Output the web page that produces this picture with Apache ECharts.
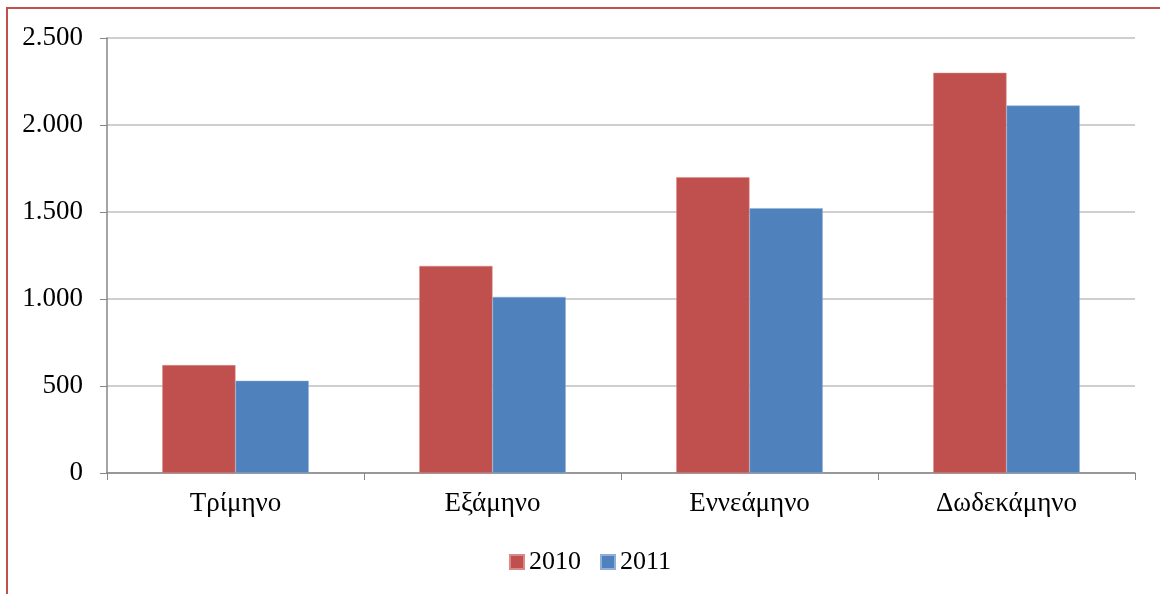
<!DOCTYPE html>
<html>
<head>
<meta charset="utf-8">
<script src="https://cdn.jsdelivr.net/npm/echarts@6/dist/echarts.min.js"></script>
<style>
  html, body { margin: 0; padding: 0; background: #fff; }
  #chart { width: 1160px; height: 594px; }
</style>
</head>
<body>
<div id="chart"></div>
<script>
  var categories = ["Τρίμηνο", "Εξάμηνο", "Εννεάμηνο", "Δωδεκάμηνο"];
  var values2010 = [620, 1190, 1700, 2300];
  var values2011 = [530, 1012, 1522, 2112];
  var yTicks = [0, 500, 1000, 1500, 2000, 2500];

  var myChart = echarts.init(document.getElementById("chart"));
  var font = "'Liberation Serif', 'DejaVu Serif', serif";

  var option = {
    animation: false,
    textStyle: { fontFamily: font },
    graphic: [
      {
        type: "rect",
        shape: { x: 7, y: 8, width: 1200, height: 700 },
        style: { fill: "none", stroke: "#c0504d", lineWidth: 2 },
        silent: true
      }
    ],
    grid: { left: 107, right: 25, top: 38, bottom: 121 },
    legend: {
      bottom: 14,
      left: 504,
      itemWidth: 14,
      itemHeight: 14,
      itemGap: 19,
      icon: "rect",
      textStyle: { fontFamily: font, fontSize: 26, color: "#000" },
      data: ["2010", "2011"]
    },
    xAxis: {
      type: "category",
      data: categories,
      axisLine: { lineStyle: { color: "#868686", width: 1.5 } },
      axisTick: { show: true, length: 7, lineStyle: { color: "#868686" } },
      axisLabel: { fontFamily: font, fontSize: 27, color: "#000", margin: 17 }
    },
    yAxis: {
      type: "value",
      min: yTicks[0],
      max: yTicks[yTicks.length - 1],
      interval: 500,
      axisLine: { show: true, lineStyle: { color: "#868686", width: 1.5 } },
      axisTick: { show: true, length: 7, lineStyle: { color: "#868686" } },
      splitLine: { lineStyle: { color: "#bfbfbf", width: 1.5 } },
      axisLabel: {
        fontFamily: font,
        fontSize: 27,
        color: "#000",
        margin: 24,
        formatter: function (v) {
          return v.toString().replace(/\B(?=(\d{3})+(?!\d))/g, ".");
        }
      }
    },
    series: [
      {
        name: "2010",
        type: "bar",
        data: values2010,
        barGap: "0%",
        barCategoryGap: "43%",
        itemStyle: { color: "#c0504d", borderColor: "#d98a88", borderWidth: 0.5 }
      },
      {
        name: "2011",
        type: "bar",
        data: values2011,
        itemStyle: { color: "#4f81bd", borderColor: "#8eb0d8", borderWidth: 0.5 }
      }
    ]
  };

  myChart.setOption(option);
</script>
</body>
</html>
